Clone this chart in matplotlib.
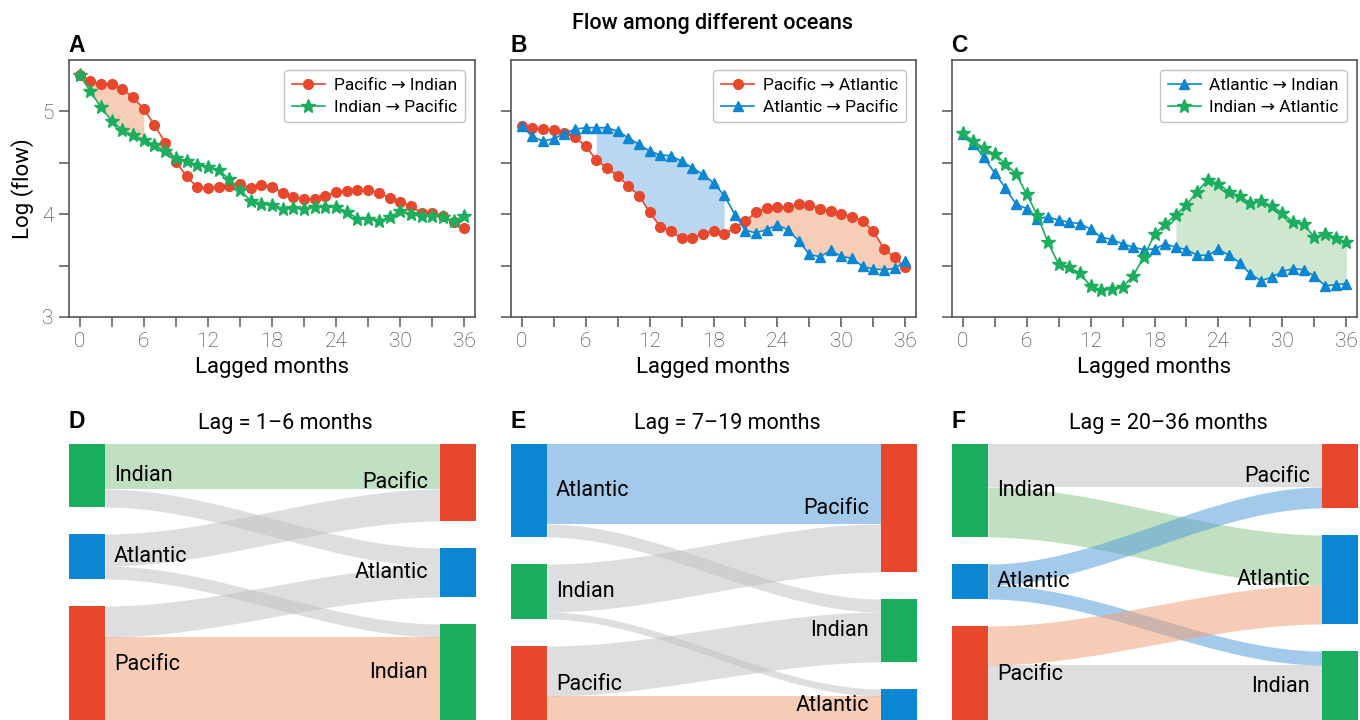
import numpy as np
import matplotlib
matplotlib.use("Agg")
import matplotlib.pyplot as plt

plt.rcParams['font.family'] = ['Roboto', 'DejaVu Sans']

# --- data ---
LAGS = list(range(37))

pac_to_ind = [5.356, 5.295, 5.270, 5.262, 5.217, 5.136, 5.026, 4.867, 4.696, 4.511,
              4.369, 4.262, 4.252, 4.265, 4.278, 4.294, 4.252, 4.285, 4.262, 4.210,
              4.172, 4.146, 4.146, 4.178, 4.214, 4.230, 4.233, 4.233, 4.207, 4.159,
              4.120, 4.078, 4.013, 4.013, 3.981, 3.922, 3.864]
ind_to_pac = [5.356, 5.194, 5.039, 4.906, 4.816, 4.767, 4.725, 4.673, 4.615, 4.547,
              4.515, 4.482, 4.460, 4.427, 4.343, 4.239, 4.129, 4.100, 4.091, 4.055,
              4.061, 4.049, 4.074, 4.071, 4.068, 4.026, 3.958, 3.955, 3.938, 3.968,
              4.032, 4.000, 3.981, 3.987, 3.971, 3.935, 3.984]

pac_to_atl = [4.858, 4.841, 4.832, 4.816, 4.786, 4.748, 4.663, 4.528, 4.450, 4.372,
              4.278, 4.181, 4.022, 3.877, 3.835, 3.764, 3.770, 3.803, 3.841, 3.809,
              3.867, 3.935, 4.019, 4.065, 4.071, 4.071, 4.097, 4.094, 4.052, 4.029,
              4.000, 3.977, 3.932, 3.838, 3.660, 3.579, 3.482]
atl_to_pac = [4.858, 4.757, 4.709, 4.735, 4.783, 4.828, 4.841, 4.841, 4.841, 4.809,
              4.744, 4.680, 4.615, 4.576, 4.570, 4.515, 4.453, 4.388, 4.304, 4.184,
              3.997, 3.841, 3.819, 3.851, 3.893, 3.848, 3.741, 3.608, 3.586, 3.647,
              3.589, 3.570, 3.492, 3.466, 3.460, 3.472, 3.540]

atl_to_ind = [4.777, 4.686, 4.553, 4.401, 4.259, 4.097, 4.055, 3.955, 3.974, 3.942,
              3.922, 3.909, 3.854, 3.777, 3.754, 3.712, 3.680, 3.654, 3.663, 3.709,
              3.680, 3.654, 3.602, 3.599, 3.660, 3.599, 3.528, 3.417, 3.353, 3.388,
              3.443, 3.469, 3.460, 3.398, 3.304, 3.314, 3.324]
ind_to_atl = [4.786, 4.712, 4.641, 4.583, 4.492, 4.392, 4.197, 3.990, 3.728, 3.515,
              3.482, 3.424, 3.301, 3.265, 3.272, 3.291, 3.401, 3.586, 3.803, 3.903,
              3.994, 4.091, 4.220, 4.333, 4.298, 4.214, 4.178, 4.107, 4.129, 4.081,
              4.010, 3.922, 3.900, 3.777, 3.809, 3.773, 3.725]

# sankey flows (relative widths), node order top to bottom
D_left = ["Indian", "Atlantic", "Pacific"]
D_right = ["Pacific", "Atlantic", "Indian"]
D_flows = {("Indian", "Pacific"): 45, ("Indian", "Atlantic"): 18,
           ("Atlantic", "Pacific"): 32, ("Atlantic", "Indian"): 13,
           ("Pacific", "Atlantic"): 31, ("Pacific", "Indian"): 85}
D_hi = [("Indian", "Pacific"), ("Pacific", "Indian")]

E_left = ["Atlantic", "Indian", "Pacific"]
E_right = ["Pacific", "Indian", "Atlantic"]
E_flows = {("Atlantic", "Pacific"): 80, ("Atlantic", "Indian"): 13,
           ("Indian", "Pacific"): 48, ("Indian", "Atlantic"): 7,
           ("Pacific", "Indian"): 50, ("Pacific", "Atlantic"): 26}
E_hi = [("Atlantic", "Pacific"), ("Pacific", "Atlantic")]

F_left = ["Indian", "Atlantic", "Pacific"]
F_right = ["Pacific", "Atlantic", "Indian"]
F_flows = {("Indian", "Pacific"): 43, ("Indian", "Atlantic"): 50,
           ("Atlantic", "Pacific"): 21, ("Atlantic", "Indian"): 14,
           ("Pacific", "Atlantic"): 39, ("Pacific", "Indian"): 57}
F_hi = [("Indian", "Atlantic"), ("Atlantic", "Pacific"),
        ("Atlantic", "Indian"), ("Pacific", "Atlantic")]

# --- colours ---
RED, GREEN, BLUE = '#E8472C', '#1AAE5E', '#0A86D2'
NODE_COL = {"Pacific": RED, "Indian": GREEN, "Atlantic": BLUE}
LINK_COL = {"Pacific": (239/255, 162/255, 122/255),
            "Indian": (142/255, 199/255, 142/255),
            "Atlantic": (88/255, 160/255, 219/255)}
GREY_LINK = (195/255, 195/255, 199/255)
FILL_OR, FILL_BL, FILL_GR = '#F6CDB6', '#B9D7F1', '#CFE6CF'
SPINE = '#555555'

W, H = 1360, 720
fig = plt.figure(figsize=(W / 100, H / 100), dpi=100)


def px_axes(l, t, r, b):
    return fig.add_axes([l / W, 1 - b / H, (r - l) / W, (b - t) / H])


def panel_letter(xpx, ypx, s):
    fig.text(xpx / W, 1 - ypx / H, s, fontsize=16.5, fontweight='bold',
             family=['Liberation Sans', 'DejaVu Sans'], va='center', ha='left')


XL = [(69, 475), (511, 916), (952, 1357)]

top_specs = [
    ("A", pac_to_ind, ind_to_pac, ("Pacific \u2192 Indian", "Indian \u2192 Pacific"),
     (RED, 'o', 7), (GREEN, '*', 10)),
    ("B", pac_to_atl, atl_to_pac, ("Pacific \u2192 Atlantic", "Atlantic \u2192 Pacific"),
     (RED, 'o', 7), (BLUE, '^', 7)),
    ("C", atl_to_ind, ind_to_atl, ("Atlantic \u2192 Indian", "Indian \u2192 Atlantic"),
     (BLUE, '^', 7), (GREEN, '*', 10)),
]

x = np.array(LAGS)
for i, (letter, s1, s2, labels, st1, st2) in enumerate(top_specs):
    ax = px_axes(XL[i][0], 60, XL[i][1], 317)
    s1 = np.array(s1)
    s2 = np.array(s2)
    # shaded regions
    if letter == "A":
        m = x <= 6
        ax.fill_between(x[m], s1[m], s2[m], color=FILL_OR, lw=0, zorder=1)
    elif letter == "B":
        m = (x >= 7) & (x <= 19)
        ax.fill_between(x[m], s1[m], s2[m], color=FILL_BL, lw=0, zorder=1)
        m = x >= 20
        ax.fill_between(x[m], s1[m], s2[m], where=s1[m] >= s2[m], interpolate=True,
                        color=FILL_OR, lw=0, zorder=1)
    else:
        m = x >= 20
        ax.fill_between(x[m], s1[m], s2[m], color=FILL_GR, lw=0, zorder=1)

    for s, (c, mk, ms), lab in ((s1, st1, labels[0]), (s2, st2, labels[1])):
        ax.plot(x, s, color=c, lw=1.2, marker=mk, ms=ms, mec=c, mfc=c,
                label=lab, zorder=3)

    ax.set_xlim(-1, 37)
    ax.set_ylim(3, 5.5)
    ax.set_xticks(range(0, 37, 6))
    ax.set_xticks(range(3, 37, 6), minor=True)
    ax.set_yticks([3, 4, 5])
    ax.set_yticks([3.5, 4.5], minor=True)
    ax.tick_params(which='both', direction='out', length=7, width=1.1, color=SPINE,
                   labelsize=15, labelcolor='#333333', pad=4)
    for lab in ax.get_xticklabels() + ax.get_yticklabels():
        lab.set_fontweight('light')
    if i > 0:
        ax.set_yticklabels([])
    else:
        ax.set_ylabel("Log (flow)", fontsize=16, labelpad=6)
    ax.set_xlabel("Lagged months", fontsize=16, labelpad=4)
    for sp in ax.spines.values():
        sp.set_color(SPINE)
        sp.set_linewidth(1.2)
    leg = ax.legend(loc='upper right', fontsize=12.5, frameon=True, fancybox=True,
                    edgecolor='#c4c4c4', framealpha=1, handlelength=1.9,
                    borderpad=0.45, labelspacing=0.35, borderaxespad=0.6,
                    handletextpad=0.5)
    leg.get_frame().set_linewidth(1.0)
    panel_letter(XL[i][0] - 1, 45, letter)

fig.text(713 / W, 1 - 23 / H, "Flow among different oceans", fontsize=15.5,
         fontweight='medium', ha='center', va='center')


# --- sankey panels ---
def smooth(u):
    return u * u * (3 - 2 * u)


def draw_sankey(ax, left, right, flows, hi, width, gap=27, node_w=36):
    ltot = {n: sum(v for (a, b), v in flows.items() if a == n) for n in left}
    rtot = {n: sum(v for (a, b), v in flows.items() if b == n) for n in right}
    ltop, y = {}, 0
    for n in left:
        ltop[n] = y
        y += ltot[n] + gap
    rtop, y = {}, 0
    for n in right:
        rtop[n] = y
        y += rtot[n] + gap
    lpos = dict(ltop)
    rpos = dict(rtop)
    starts = {}
    for a in left:
        for b in right:
            v = flows.get((a, b), 0)
            if v > 0:
                starts[(a, b)] = [lpos[a], None]
                lpos[a] += v
    for b in right:
        for a in left:
            v = flows.get((a, b), 0)
            if v > 0:
                starts[(a, b)][1] = rpos[b]
                rpos[b] += v
    x0, x1 = node_w, width - node_w
    xs = np.linspace(x0, x1, 200)
    u = smooth((xs - x0) / (x1 - x0))
    order = sorted(starts.keys(), key=lambda k: k in hi)
    for a, b in order:
        y0, y1 = starts[(a, b)]
        v = flows[(a, b)]
        top = y0 + (y1 - y0) * u
        col = LINK_COL[a] if (a, b) in hi else GREY_LINK
        ax.fill_between(xs, top, top + v, color=col, alpha=0.55, lw=0, zorder=1)
    for n in left:
        ax.add_patch(plt.Rectangle((0, ltop[n]), node_w, ltot[n],
                                   color=NODE_COL[n], lw=0, zorder=3))
        ax.text(node_w + 9, ltop[n] + ltot[n] / 2, n, fontsize=15.5,
                ha='left', va='center', zorder=4)
    for n in right:
        ax.add_patch(plt.Rectangle((width - node_w, rtop[n]), node_w, rtot[n],
                                   color=NODE_COL[n], lw=0, zorder=3))
        ax.text(width - node_w - 12, rtop[n] + rtot[n] / 2, n, fontsize=15.5,
                ha='right', va='center', zorder=4)


sankey_specs = [("D", "Lag = 1\u20136 months", D_left, D_right, D_flows, D_hi),
                ("E", "Lag = 7\u201319 months", E_left, E_right, E_flows, E_hi),
                ("F", "Lag = 20\u201336 months", F_left, F_right, F_flows, F_hi)]

for i, (letter, title, left, right, flows, hi) in enumerate(sankey_specs):
    l, r = XL[i]
    width = r + 1 - l
    ax = px_axes(l, 444, r + 1, 722)
    draw_sankey(ax, left, right, flows, hi, width)
    ax.set_xlim(0, width)
    ax.set_ylim(278, 0)
    ax.axis('off')
    panel_letter(l, 422, letter)
    fig.text((l + width / 2 + 13) / W, 1 - 423 / H, title, fontsize=15.5,
             ha='center', va='center')

fig.savefig("out.png", dpi=100)
